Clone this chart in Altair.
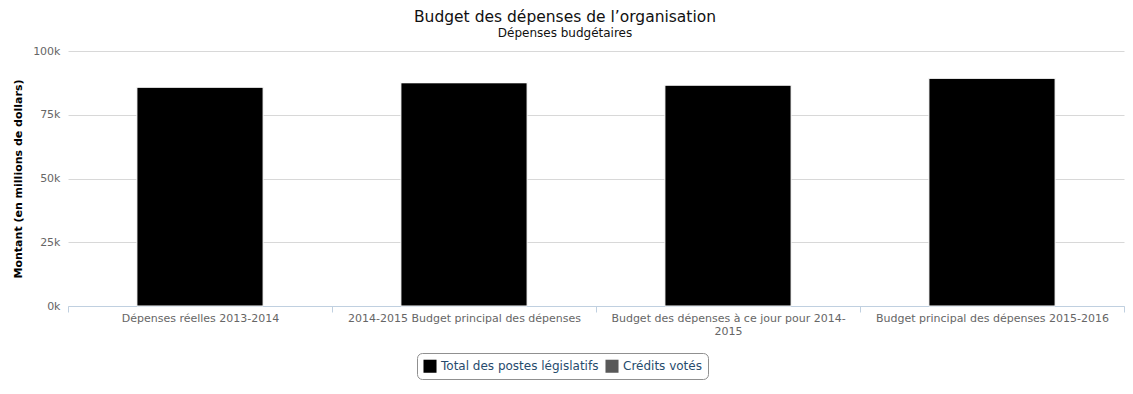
import altair as alt
import pandas as pd

categories = [
    "Dépenses réelles 2013-2014",
    "2014-2015 Budget principal des dépenses",
    "Budget des dépenses à ce jour pour 2014-2015",
    "Budget principal des dépenses 2015-2016",
]
series = ["Total des postes législatifs", "Crédits votés"]
legislatifs = [85900, 87600, 86700, 89400]
votes = [0, 0, 0, 0]
colors = ["#000000", "#595959"]
y_ticks = [0, 25000, 50000, 75000, 100000]

rows = []
for c, l, v in zip(categories, legislatifs, votes):
    rows.append({"cat": c, "serie": series[0], "val": l, "ord": 0})
    rows.append({"cat": c, "serie": series[1], "val": v, "ord": 1})
df = pd.DataFrame(rows)

label_expr = (
    "datum.label == 'Budget des dépenses à ce jour pour 2014-2015' ? "
    "['Budget des dépenses à ce jour pour 2014-', '2015'] : datum.label"
)

bars = alt.Chart(df).mark_bar(
    width=alt.RelativeBandSize(0.478), stroke="white", strokeWidth=1
).encode(
    x=alt.X(
        "cat:N",
        sort=categories,
        scale=alt.Scale(paddingInner=0, paddingOuter=0),
        axis=alt.Axis(
            title=None,
            labelAngle=0,
            tickBand="extent",
            labelExpr=label_expr,
            labelFont="DejaVu Sans",
            labelFontSize=11,
            labelColor="#666666",
            labelPadding=0,
            labelLineHeight=13,
            labelBaseline="top",
            labelLimit=300,
            domainColor="#C0D0E0",
            tickColor="#C0D0E0",
            tickSize=6,
        ),
    ),
    y=alt.Y(
        "val:Q",
        stack="zero",
        scale=alt.Scale(domain=[0, 100000], nice=False),
        axis=alt.Axis(
            title="Montant (en millions de dollars)",
            values=y_ticks,
            labelExpr="(datum.value / 1000) + 'k'",
            labelFont="DejaVu Sans",
            labelFontSize=11,
            labelColor="#666666",
            labelPadding=8,
            ticks=False,
            domain=False,
            grid=True,
            gridColor="#D8D8D8",
            gridWidth=1,
            titleFont="DejaVu Sans",
            titleFontSize=11,
            titleFontWeight="bold",
            titleColor="#000000",
            titlePadding=9,
        ),
    ),
    color=alt.Color(
        "serie:N",
        sort=series,
        scale=alt.Scale(domain=series, range=colors),
        legend=alt.Legend(
            title=None,
            orient="none",
            legendX=349,
            legendY=302,
            direction="horizontal",
            symbolType="square",
            symbolSize=170,
            symbolStrokeWidth=0,
            labelFont="DejaVu Sans",
            labelFontSize=12,
            labelColor="#274b6d",
            columnPadding=6,
            padding=6,
            strokeColor="#909090",
            cornerRadius=5,
            fillColor="white",
        ),
    ),
    order=alt.Order("ord:Q"),
)

chart = bars.properties(
    width=1056,
    height=255,
    padding={"left": 60, "top": 43, "right": 1, "bottom": 80},
    autosize=alt.AutoSizeParams(type="none"),
    title=alt.TitleParams(
        text="Budget des dépenses de l’organisation",
        subtitle="Dépenses budgétaires",
        anchor="middle",
        font="DejaVu Sans",
        fontSize=15.5,
        fontWeight="normal",
        color="#111111",
        subtitleFont="DejaVu Sans",
        subtitleFontSize=12,
        subtitleColor="#111111",
        subtitlePadding=3,
        offset=6,
        dx=-31,
    ),
).configure(font="DejaVu Sans").configure_view(stroke=None)

chart.save("out.html", embed_options={"renderer": "svg", "actions": False})
